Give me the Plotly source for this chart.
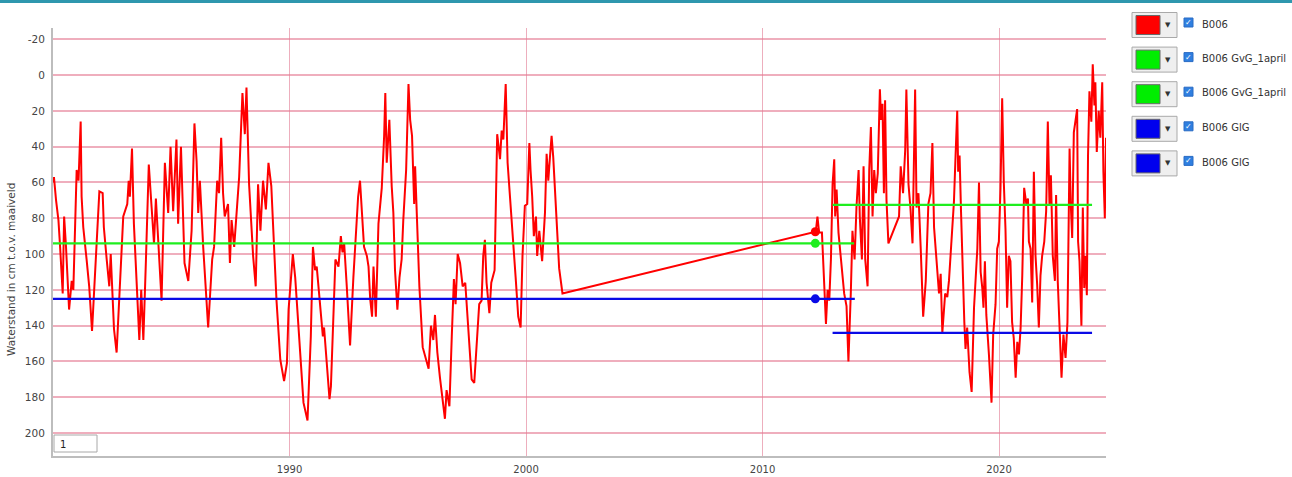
import plotly.graph_objects as go

# Groundwater level B006 (cm below surface level), decimal years
years_1 = [1980.00, 1980.04, 1980.13, 1980.23, 1980.30, 1980.41, 1980.47, 1980.55, 1980.68, 1980.79,
           1980.86, 1981.00, 1981.08, 1981.17, 1981.21, 1981.28, 1981.42, 1981.53, 1981.65, 1981.77,
           1981.96, 1982.10, 1982.15, 1982.27, 1982.38, 1982.44, 1982.58, 1982.69, 1982.83, 1982.97,
           1983.14, 1983.20, 1983.25, 1983.34, 1983.42, 1983.56, 1983.65, 1983.73, 1983.82, 1983.93,
           1984.05, 1984.17, 1984.27, 1984.35, 1984.45, 1984.59, 1984.73, 1984.87, 1984.97, 1985.08,
           1985.22, 1985.29, 1985.41, 1985.50, 1985.56, 1985.72, 1985.86, 1985.98, 1986.07, 1986.14,
           1986.21, 1986.35, 1986.56, 1986.73, 1986.81, 1986.94, 1987.02, 1987.11, 1987.19, 1987.26,
           1987.40, 1987.48, 1987.55, 1987.66, 1987.76, 1987.87, 1988.01, 1988.11, 1988.18, 1988.29,
           1988.46, 1988.57, 1988.67, 1988.77, 1988.88, 1989.00, 1989.11, 1989.23, 1989.45,
           1989.61, 1989.77, 1989.89, 1989.96, 1990.14, 1990.24, 1990.38, 1990.59, 1990.76, 1990.90,
           1990.99, 1991.08, 1991.15, 1991.27, 1991.41, 1991.46, 1991.58, 1991.69, 1991.75, 1991.86,
           1991.94, 1992.07, 1992.17, 1992.24, 1992.31, 1992.42, 1992.56, 1992.70, 1992.82, 1992.90,
           1992.98, 1993.06, 1993.15, 1993.27, 1993.34, 1993.41, 1993.49, 1993.55, 1993.65, 1993.76,
           1993.90, 1994.00, 1994.05, 1994.11, 1994.22, 1994.32, 1994.39, 1994.46, 1994.56, 1994.65,
           1994.74, 1994.81, 1994.93, 1995.03, 1995.10, 1995.18, 1995.27, 1995.31, 1995.38, 1995.49,
           1995.63, 1995.77, 1995.88, 1995.98, 1996.08, 1996.15, 1996.25, 1996.36, 1996.50, 1996.57,
           1996.64, 1996.76, 1996.86, 1996.95, 1997.02, 1997.11, 1997.21, 1997.32, 1997.43, 1997.56,
           1997.70, 1997.81, 1997.91, 1998.02, 1998.12, 1998.19, 1998.26, 1998.33, 1998.45, 1998.53,
           1998.67, 1998.78, 1998.90, 1998.97, 1999.04, 1999.14, 1999.22, 1999.35, 1999.46, 1999.56,
           1999.67, 1999.77, 1999.85, 1999.95, 2000.05, 2000.14, 2000.19, 2000.26, 2000.33, 2000.42,
           2000.47, 2000.56, 2000.68, 2000.80, 2000.87, 2000.94, 2001.01, 2001.08, 2001.15, 2001.26,
           2001.40, 2001.54]
levels_1 = [60, 57, 70, 81, 96, 122, 79, 96, 131, 115,
            120, 53, 59, 26, 68, 85, 103, 118, 143, 111,
            65, 66, 85, 103, 118, 100, 142, 155, 120, 79,
            72, 59, 68, 41, 83, 120, 148, 120, 148, 103,
            50, 74, 94, 69, 94, 126, 49, 77, 40, 76,
            36, 83, 40, 87, 105, 115, 87, 27, 48, 77,
            59, 96, 141, 103, 96, 59, 66, 35, 66, 79,
            72, 105, 81, 96, 79, 57, 10, 33, 7, 61,
            101, 118, 61, 87, 59, 75, 49, 62, 126,
            159, 171, 161, 131, 100, 113, 141, 183, 193, 146,
            96, 109, 107, 125, 146, 141, 165, 181, 174, 125,
            103, 107, 90, 99, 94, 118, 151, 113, 87, 68,
            59, 75, 96, 101, 107, 125, 135, 107, 135, 83,
            63, 34, 10, 49, 25, 62, 77, 109, 131, 113,
            103, 81, 53, 5, 25, 34, 72, 51, 81, 118,
            152, 159, 164, 140, 148, 134, 155, 169, 183, 192,
            176, 185, 146, 114, 128, 100, 105, 118, 116, 144,
            170, 172, 152, 128, 126, 101, 92, 116, 133, 116,
            109, 33, 47, 31, 36, 5, 49, 72, 90, 113,
            135, 141, 101, 73, 72, 38, 53, 68, 90, 79,
            101, 87, 104, 77, 44, 59, 46, 34, 46, 72,
            108, 122]

years_2 = [2012.11, 2012.25, 2012.32, 2012.39, 2012.51, 2012.61, 2012.68, 2012.75, 2012.82, 2012.89,
           2012.96, 2013.03, 2013.07, 2013.13, 2013.21, 2013.28, 2013.35, 2013.45, 2013.55, 2013.63,
           2013.73, 2013.80, 2013.89, 2013.97, 2014.06, 2014.11, 2014.20, 2014.27, 2014.34, 2014.44,
           2014.51, 2014.58, 2014.65, 2014.72, 2014.79, 2014.87, 2014.96, 2015.01, 2015.07, 2015.13,
           2015.18, 2015.24, 2015.32, 2015.77, 2015.84, 2015.94, 2016.03, 2016.08, 2016.17, 2016.25,
           2016.34, 2016.41, 2016.45, 2016.51, 2016.59, 2016.69, 2016.79, 2016.90, 2017.01, 2017.10,
           2017.18, 2017.25, 2017.35, 2017.46, 2017.53, 2017.60, 2017.72, 2017.81, 2017.88, 2017.99,
           2018.09, 2018.16, 2018.23, 2018.27, 2018.33, 2018.39, 2018.47, 2018.53, 2018.58, 2018.65,
           2018.75, 2018.84, 2018.94, 2019.01, 2019.08, 2019.15, 2019.22, 2019.29, 2019.34, 2019.40,
           2019.46, 2019.57, 2019.68, 2019.75, 2019.85, 2019.92, 2019.99, 2020.06, 2020.13, 2020.20,
           2020.27, 2020.34, 2020.41, 2020.48, 2020.55, 2020.62, 2020.70, 2020.77, 2020.84, 2020.91,
           2020.98, 2021.06, 2021.15, 2021.22, 2021.26, 2021.33, 2021.40, 2021.47, 2021.54, 2021.61,
           2021.68, 2021.75, 2021.82, 2021.91, 2021.99, 2022.06, 2022.13, 2022.19, 2022.27, 2022.36,
           2022.41, 2022.48, 2022.55, 2022.64, 2022.72, 2022.81, 2022.89, 2022.98, 2023.03, 2023.09,
           2023.16, 2023.23, 2023.30, 2023.34, 2023.40, 2023.48, 2023.54, 2023.60, 2023.65, 2023.71,
           2023.76, 2023.82, 2023.90, 2023.96, 2024.03, 2024.07, 2024.13, 2024.21, 2024.28, 2024.36,
           2024.41, 2024.47, 2024.52]
levels_2 = [88, 87.5, 79, 88, 88, 120, 139, 120, 126, 103,
            61, 47, 79, 64, 88, 98, 107, 122, 129, 160,
            122, 87, 103, 74, 53, 79, 103, 51, 103, 118,
            53, 29, 79, 53, 66, 55, 8, 25, 16, 66,
            14, 70, 94, 79, 51, 66, 42, 8, 61, 74,
            94, 20, 8, 74, 66, 98, 135, 115, 72, 66,
            38, 85, 103, 122, 111, 144, 122, 124, 115, 93,
            71, 45, 20, 54, 45, 76, 115, 138, 153, 141,
            166, 177, 130, 110, 97, 60, 110, 119, 130, 104,
            134, 156, 183, 145, 128, 97, 93, 63, 13, 60,
            86, 130, 101, 104, 138, 147, 169, 149, 156, 141,
            112, 63, 72, 69, 93, 97, 127, 54, 101, 117,
            141, 112, 101, 93, 76, 26, 72, 56, 101, 115,
            67, 115, 138, 169, 145, 158, 138, 41, 72, 91,
            32, 24, 19, 93, 104, 140, 74, 119, 101, 123,
            45, 9, 26, -6, 17, 4, 43, 20, 35, 4,
            54, 80, 35]

# Characteristic levels: GvG (spring level) and GlG (mean lowest level)
gvg_1_years = [1980.0, 2013.87]
gvg_1_level = 94
glg_1_years = [1980.0, 2013.90]
glg_1_level = 125
gvg_2_years = [2012.96, 2023.93]
gvg_2_level = 72.5
glg_2_years = [2012.96, 2023.93]
glg_2_level = 144
highlight_year = 2012.23
highlight_level = 87.5

legend_names = ["B006", "B006 GvG_1april", "B006 GvG_1april", "B006 GlG", "B006 GlG"]
legend_colors = ["#ff0000", "#00ee00", "#00ee00", "#0000ee", "#0000ee"]

y_ticks = list(range(-20, 201, 20))
x_ticks = [1990, 2000, 2010, 2020]

RED, GREEN, BLUE = "#ff0000", "#1fee1f", "#0a0ae6"

fig = go.Figure()
fig.add_trace(go.Scatter(x=years_1 + years_2, y=levels_1 + levels_2, mode="lines",
                         line=dict(color=RED, width=2), name="B006"))
fig.add_trace(go.Scatter(x=gvg_1_years, y=[gvg_1_level] * 2, mode="lines",
                         line=dict(color=GREEN, width=2.2), name="B006 GvG_1april"))
fig.add_trace(go.Scatter(x=gvg_2_years, y=[gvg_2_level] * 2, mode="lines",
                         line=dict(color=GREEN, width=2.2), name="B006 GvG_1april"))
fig.add_trace(go.Scatter(x=glg_1_years, y=[glg_1_level] * 2, mode="lines",
                         line=dict(color=BLUE, width=2.2), name="B006 GlG"))
fig.add_trace(go.Scatter(x=glg_2_years, y=[glg_2_level] * 2, mode="lines",
                         line=dict(color=BLUE, width=2.2), name="B006 GlG"))
fig.add_trace(go.Scatter(x=[highlight_year] * 3,
                         y=[highlight_level, gvg_1_level, glg_1_level], mode="markers",
                         marker=dict(color=[RED, GREEN, BLUE], size=9), showlegend=False))

# Plot area in pixels
W, H = 1292, 477
L, R, T, B = 53, 1106, 28, 456


def px(x):
    return (x - L) / (R - L)


def py(y):
    return (B - y) / (B - T)


shapes = []
annotations = []

# Top banner
shapes.append(dict(type="rect", xref="paper", yref="paper", x0=px(0), x1=px(W),
                   y0=py(3), y1=py(-2), fillcolor="#2f97ae", line=dict(width=0), layer="above"))

# Series selector panel on the right
row0, step = 25, 34.6
for i, (name, col) in enumerate(zip(legend_names, legend_colors)):
    cy = row0 + i * step
    shapes.append(dict(type="rect", xref="paper", yref="paper",
                       x0=px(1132), x1=px(1177), y0=py(cy + 12.5), y1=py(cy - 12.5),
                       fillcolor="#efefef", line=dict(color="#a9a9a9", width=1)))
    shapes.append(dict(type="rect", xref="paper", yref="paper",
                       x0=px(1136), x1=px(1160), y0=py(cy + 9.5), y1=py(cy - 9.5),
                       fillcolor=col, line=dict(color="#6a6a6a", width=1)))
    annotations.append(dict(xref="paper", yref="paper", x=px(1168), y=py(cy), text="▼",
                            showarrow=False, font=dict(size=7, color="#333333"),
                            xanchor="center", yanchor="middle"))
    shapes.append(dict(type="rect", xref="paper", yref="paper",
                       x0=px(1184), x1=px(1193), y0=py(cy + 2), y1=py(cy - 7),
                       fillcolor="#2f7fe0", line=dict(color="#2a6cc4", width=1)))
    annotations.append(dict(xref="paper", yref="paper", x=px(1188.5), y=py(cy - 2.5), text="✓",
                            showarrow=False, font=dict(size=8, color="white"),
                            xanchor="center", yanchor="middle"))
    annotations.append(dict(xref="paper", yref="paper", x=px(1200), y=py(cy - 1), text=name,
                            showarrow=False, font=dict(size=10, color="#333333"),
                            xanchor="left", yanchor="middle"))

# Small zoom input box at the lower left
shapes.append(dict(type="rect", xref="paper", yref="paper", x0=px(54), x1=px(97),
                   y0=py(452), y1=py(435), fillcolor="white",
                   line=dict(color="#a8a8a8", width=1), layer="above"))
annotations.append(dict(xref="paper", yref="paper", x=px(58), y=py(444), text="1",
                        showarrow=False, font=dict(size=10, color="#222222"),
                        xanchor="left", yanchor="middle"))

# Y axis title
annotations.append(dict(xref="paper", yref="paper", x=px(11), y=py(270),
                        text="Waterstand in cm t.o.v. maaiveld", textangle=-90,
                        showarrow=False, font=dict(size=10.5, color="#444444"),
                        xanchor="center", yanchor="middle"))

fig.update_layout(
    width=W, height=H, autosize=False,
    margin=dict(l=L, r=W - R, t=T, b=H - B, pad=0, autoexpand=False),
    paper_bgcolor="white", plot_bgcolor="white",
    showlegend=False,
    font=dict(family="DejaVu Sans", size=10, color="#444444"),
    shapes=shapes, annotations=annotations,
    xaxis=dict(range=[1980.0, 2024.52], tickvals=x_ticks, ticktext=[str(v) for v in x_ticks],
               automargin=False,
               showgrid=True, gridcolor="rgba(225,120,145,0.6)", gridwidth=1,
               zeroline=False, showline=True, linecolor="#bdbdbd", linewidth=2,
               ticks="", ticklabelstandoff=3, tickfont=dict(size=10, color="#444444")),
    yaxis=dict(range=[212.8, -26.3], tickvals=y_ticks, ticktext=[str(v) for v in y_ticks],
               automargin=False,
               showgrid=True, gridcolor="rgba(228,120,145,0.6)", gridwidth=1.6,
               zeroline=False, showline=True, linecolor="#bdbdbd", linewidth=2,
               ticks="", ticklabelstandoff=4, tickfont=dict(size=10.5, color="#444444")),
)

fig.write_html("out.html")
